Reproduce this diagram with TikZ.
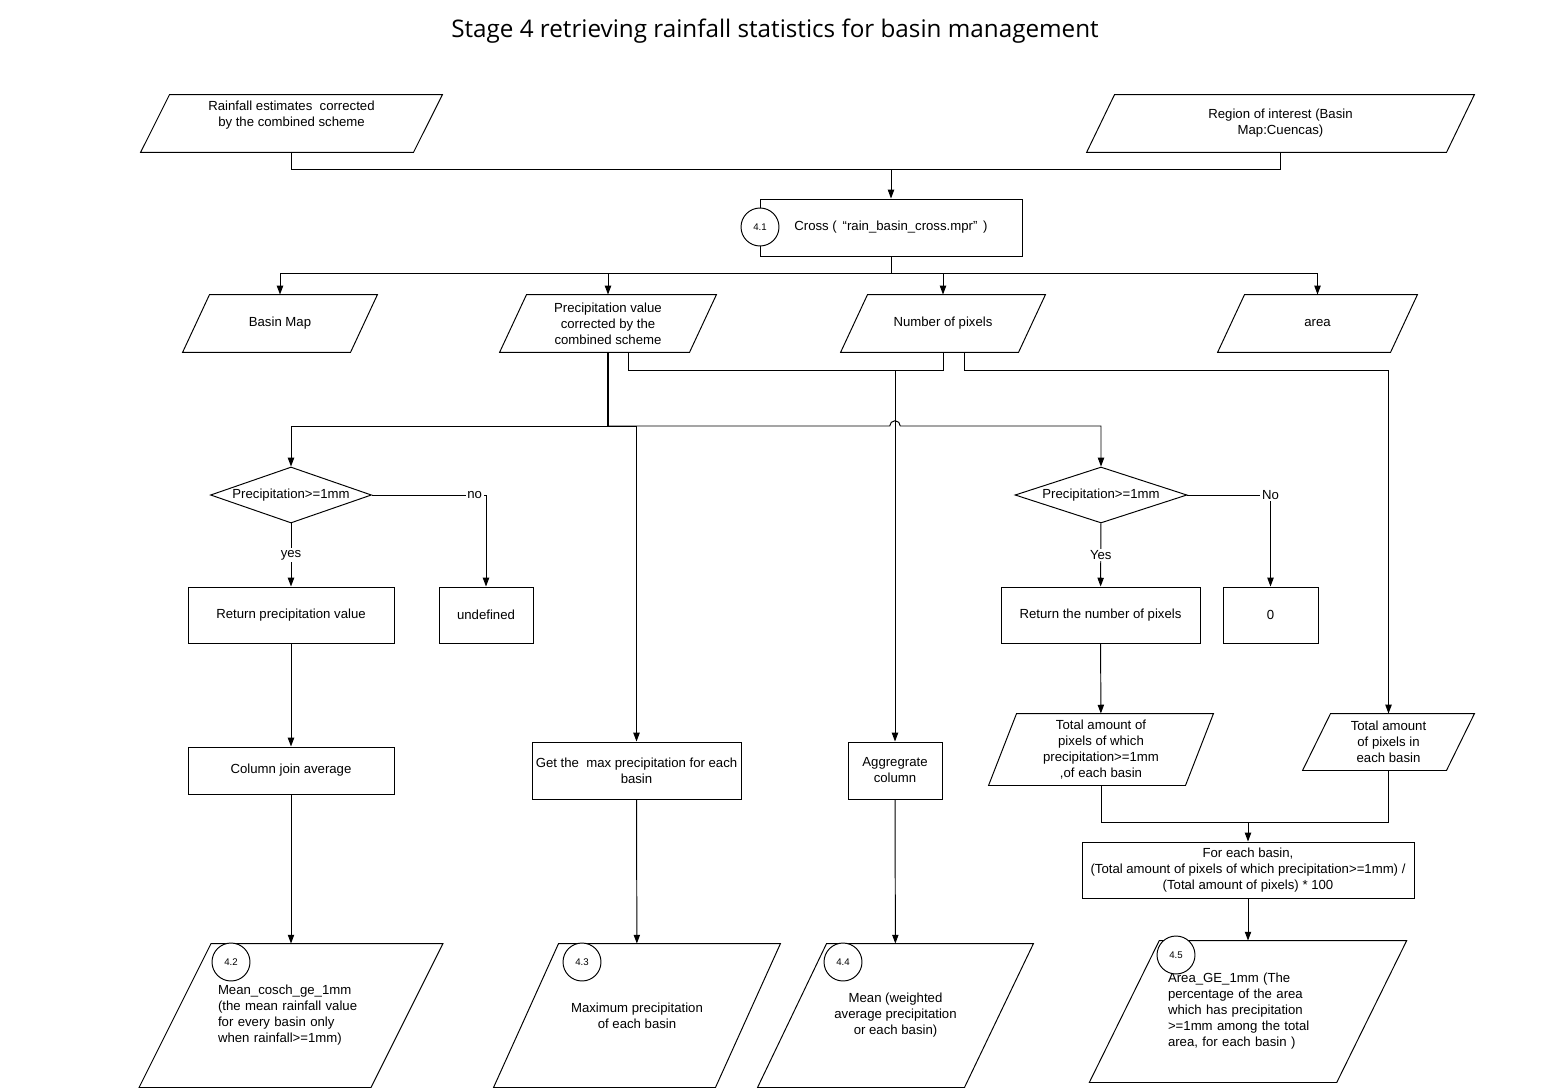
\documentclass[tikz,border=0pt]{standalone}
\usepackage{fontspec}
\setmainfont{Liberation Sans}
\newfontfamily\titlefont{Open Sans}
\usetikzlibrary{shapes.geometric,arrows.meta,calc}

\tikzset{
  io/.style={rectangle, align=center, inner sep=1pt,
    append after command={\pgfextra{%
      \draw ([xshift=#1/2]\tikzlastnode.north west) -- ([xshift=#1/2]\tikzlastnode.north east)
        -- ([xshift=-#1/2]\tikzlastnode.south east) -- ([xshift=-#1/2]\tikzlastnode.south west) -- cycle;}}},
  io/.default=0.54cm,
  proc/.style={rectangle, draw, align=center, inner sep=1pt},
  dec/.style={diamond, draw, aspect=2.9, inner sep=0pt},
  num/.style={circle, draw, fill=white, minimum size=0.76cm, inner sep=0pt,
    font=\fontsize{5.5}{6}\selectfont},
  arr/.style={-{Triangle[length=5pt,width=3.6pt]}},
  lbl/.style={fill=white, inner sep=1pt},
}

\begin{document}
\begin{tikzpicture}[x=0.02cm, y=-0.02cm, line width=0.55pt,
  font=\fontsize{7.5}{9.1}\selectfont]
  \useasboundingbox (0,0) rectangle (1551,1088);

  \node[font=\titlefont\fontsize{13.8}{16}\selectfont] (title) at (775,31)
    {Stage 4 retrieving rainfall statistics for basin management}; %

  \node[io=0.58cm, minimum width=5.44cm, minimum height=1.14cm, text depth=11pt] (rain) at (291.5,123.5)
    {Rainfall estimates~ corrected\\by the combined scheme}; %
  \node[io=0.56cm, minimum width=7.18cm, minimum height=1.14cm] (roi) at (1280.5,123.5)
    {Region of interest (Basin\\Map:Cuencas)}; %
  \node[proc, minimum width=5.24cm, minimum height=1.14cm] (cross) at (891,227.5)
    {Cross ( \,“rain\_basin\_cross.mpr”\, )}; %
  \node[num] (n41) at (760,227) {4.1}; %
  \coordinate (inbus) at (891,169);
  \draw (rain) |- (inbus);
  \draw (roi) |- (inbus);
  \draw[arr] (inbus) -- (cross);

  \node[io, minimum width=3.34cm, minimum height=1.14cm] (basin) at (280,323.5) {Basin Map}; %
  \node[io, minimum width=3.78cm, minimum height=1.14cm] (precip) at (608,323.5)
    {Precipitation value\\corrected by the\\combined scheme}; %
  \node[io, minimum width=3.54cm, minimum height=1.14cm] (npix) at (943,323.5) {Number of pixels}; %
  \node[io, minimum width=3.44cm, minimum height=1.14cm] (area) at (1317.5,323.5) {area}; %
  \coordinate (outbus) at (891,273);
  \draw (cross) -- (outbus);
  \foreach \n in {basin,precip,npix,area}
    \draw[arr] (outbus) -| (\n);

  \node[dec, minimum width=3.22cm, minimum height=1.12cm] (cond1) at (291,495) {Precipitation>=1mm}; %
  \node[dec, minimum width=3.44cm, minimum height=1.12cm] (cond2) at (1101,495) {Precipitation>=1mm}; %
  \node[proc, minimum width=1.88cm, minimum height=1.14cm] (aggr) at (895,770.5) {Aggregrate\\column}; %
  \node[proc, minimum width=4.18cm, minimum height=1.14cm] (getmax) at (636.5,770.5)
    {Get the~ max precipitation for each\\basin}; %
  \node[io=0.56cm, minimum width=2.86cm, minimum height=1.12cm] (tote) at (1388.5,742)
    {Total amount\\of pixels in\\each basin}; %

  % precipitation and pixel buses
  \coordinate (pbus) at (608,426);
  \draw[line width=0.9pt] (precip) -- (pbus);
  \draw[arr] (pbus) -| (cond1);
  \draw[arr] (pbus) -| (getmax);
  \draw[arr] (pbus) -- ($(pbus -| aggr)+(-3pt,0)$) arc[start angle=180, end angle=0, radius=3pt] -| (cond2);
  \coordinate (mbus) at (895,370);
  \draw (mbus) -| ($(precip.south)+(20,0)$);
  \draw (mbus) -| (npix);
  \draw[arr] (mbus) -- (aggr);
  \coordinate (nbus) at (1388.5,370);
  \draw[arr] ($(npix.south)+(21,0)$) |- (nbus) -- (tote);

  \node[proc, minimum width=4.12cm, minimum height=1.12cm] (retp) at (291,615) {Return precipitation value}; %
  \node[proc, minimum width=1.88cm, minimum height=1.12cm] (undef) at (486,615) {undefined}; %
  \node[proc, minimum width=4.12cm, minimum height=0.94cm] (colj) at (291,770.5) {Column join average}; %
  \draw[arr] (cond1) -- node[lbl] {yes} (retp);
  \draw[arr] (cond1) -| node[lbl, pos=0.45] {no} (undef);
  \draw[arr] (retp) -- (colj);

  \node[proc, minimum width=3.98cm, minimum height=1.12cm] (retn) at (1100.5,615) {Return the number of pixels}; %
  \node[proc, minimum width=1.9cm, minimum height=1.12cm] (zero) at (1270.5,615) {0}; %
  \node[io=0.56cm, minimum width=3.92cm, minimum height=1.42cm] (totw) at (1101,749.5)
    {Total amount of\\pixels of which\\precipitation>=1mm\\,of each basin}; %
  \node[proc, minimum width=6.64cm, minimum height=1.12cm] (ratio) at (1248,870)
    {For each basin,\\(Total amount of pixels of which precipitation>=1mm) /\\(Total amount of pixels) * 100}; %
  \draw[arr] (cond2) -- node[lbl] {Yes} (retn);
  \draw[arr] (cond2) -| node[lbl, pos=0.5] {No} (zero);
  \draw[arr] (retn) -- (totw);
  \coordinate (rbus) at (1248,822);
  \draw (totw) |- (rbus);
  \draw (tote) |- (rbus);
  \draw[arr] (rbus) -- (ratio);

  % results
  \node[io=1.44cm, minimum width=4.62cm, minimum height=2.86cm, text width=2.92cm, align=left] (out42) at (291,1015.5)
    {Mean\_cosch\_ge\_1mm\\(the mean rainfall value\\for every basin only\\when rainfall>=1mm)}; %
  \node[io=1.3cm, minimum width=4.42cm, minimum height=2.86cm] (out43) at (637,1015.5)
    {Maximum precipitation\\of each basin}; %
  \node[io=1.38cm, minimum width=4.12cm, minimum height=2.86cm] (out44) at (895.5,1015.5)
    {Mean (weighted\\average precipitation\\or each basin)}; %
  \node[io=1.4cm, minimum width=4.93cm, minimum height=2.82cm, text width=3.2cm, align=left] (out45) at (1248,1011.5)
    {Area\_GE\_1mm (The\\percentage of the area\\which has precipitation\\>=1mm among the total\\area, for each basin )}; %
  \node[num] (n42) at (231,962) {4.2}; %
  \node[num] (n43) at (582,962) {4.3}; %
  \node[num] (n44) at (843,962) {4.4}; %
  \node[num] (n45) at (1176,955) {4.5}; %
  \draw[arr] (colj) -- (out42);
  \draw[arr] (getmax) -- (out43);
  \draw[arr] (aggr) -- (out44);
  \draw[arr] (ratio) -- (out45);

\end{tikzpicture}
\end{document}
